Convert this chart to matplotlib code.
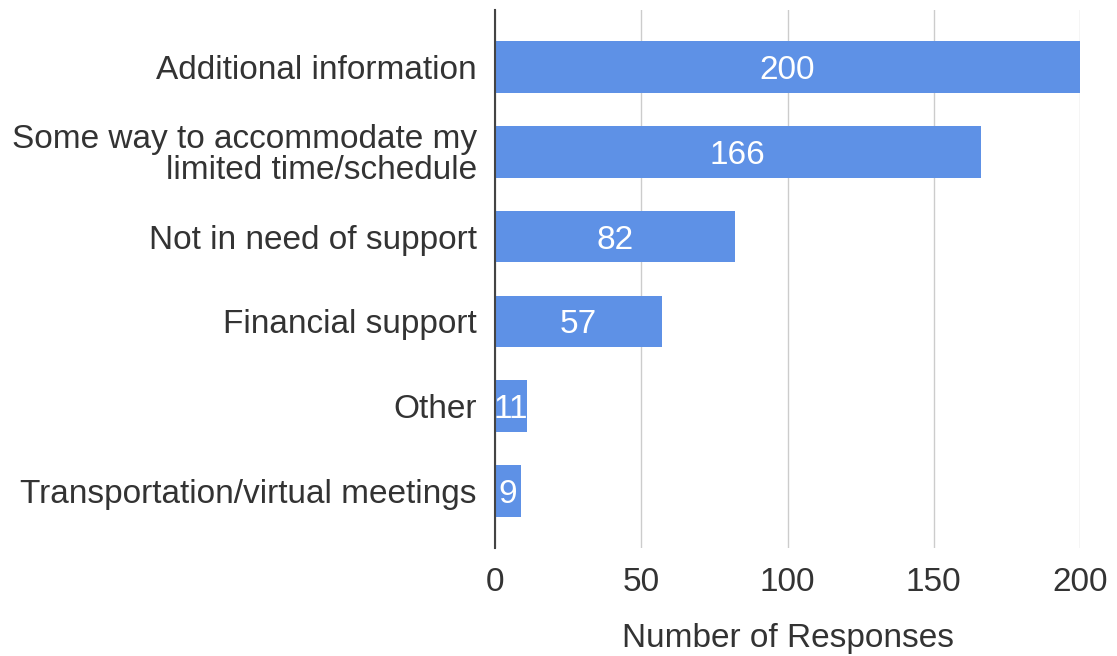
import matplotlib
matplotlib.use("Agg")
import matplotlib.pyplot as plt

categories = [
    "Additional information",
    "Some way to accommodate my\nlimited time/schedule",
    "Not in need of support",
    "Financial support",
    "Other",
    "Transportation/virtual meetings",
]
responses = [200, 166, 82, 57, 11, 9]
x_ticks = [0, 50, 100, 150, 200]

plt.rcParams["font.family"] = ["Liberation Sans", "DejaVu Sans"]
text_color = "#333333"
bar_color = "#5E91E6"
fs = 24

W, H = 1117, 656
fig = plt.figure(figsize=(W / 100, H / 100), dpi=100)
ax = fig.add_axes([495 / W, 1 - 548 / H, (1080 - 495) / W, (548 - 10) / H])

y = list(range(len(categories)))
ax.barh(y, responses, height=0.61, color=bar_color, zorder=2)

for yi, v in zip(y, responses):
    ax.text(v / 2, yi, str(v), ha="center", va="center_baseline",
            color="white", fontsize=fs, zorder=3)

ax.set_xlim(0, 200)
ax.set_ylim(5.67, -0.67)
ax.set_yticks(y)
ax.set_yticklabels(categories, fontsize=fs, color=text_color, ha="right",
                   multialignment="right", linespacing=0.98)
ax.set_xticks(x_ticks)
ax.set_xticklabels([str(t) for t in x_ticks], fontsize=fs, color=text_color)
ax.tick_params(axis="both", length=0)
ax.tick_params(axis="x", pad=14)
ax.tick_params(axis="y", pad=13)

ax.grid(axis="x", color="#cccccc", linewidth=1, zorder=1)
for side in ["top", "right", "bottom"]:
    ax.spines[side].set_visible(False)
ax.spines["left"].set_color("#444444")
ax.spines["left"].set_linewidth(1.5)
ax.spines["left"].set_zorder(4)

ax.set_xlabel("Number of Responses", fontsize=fs, color=text_color, labelpad=18)

fig.savefig("out.png", dpi=100)
